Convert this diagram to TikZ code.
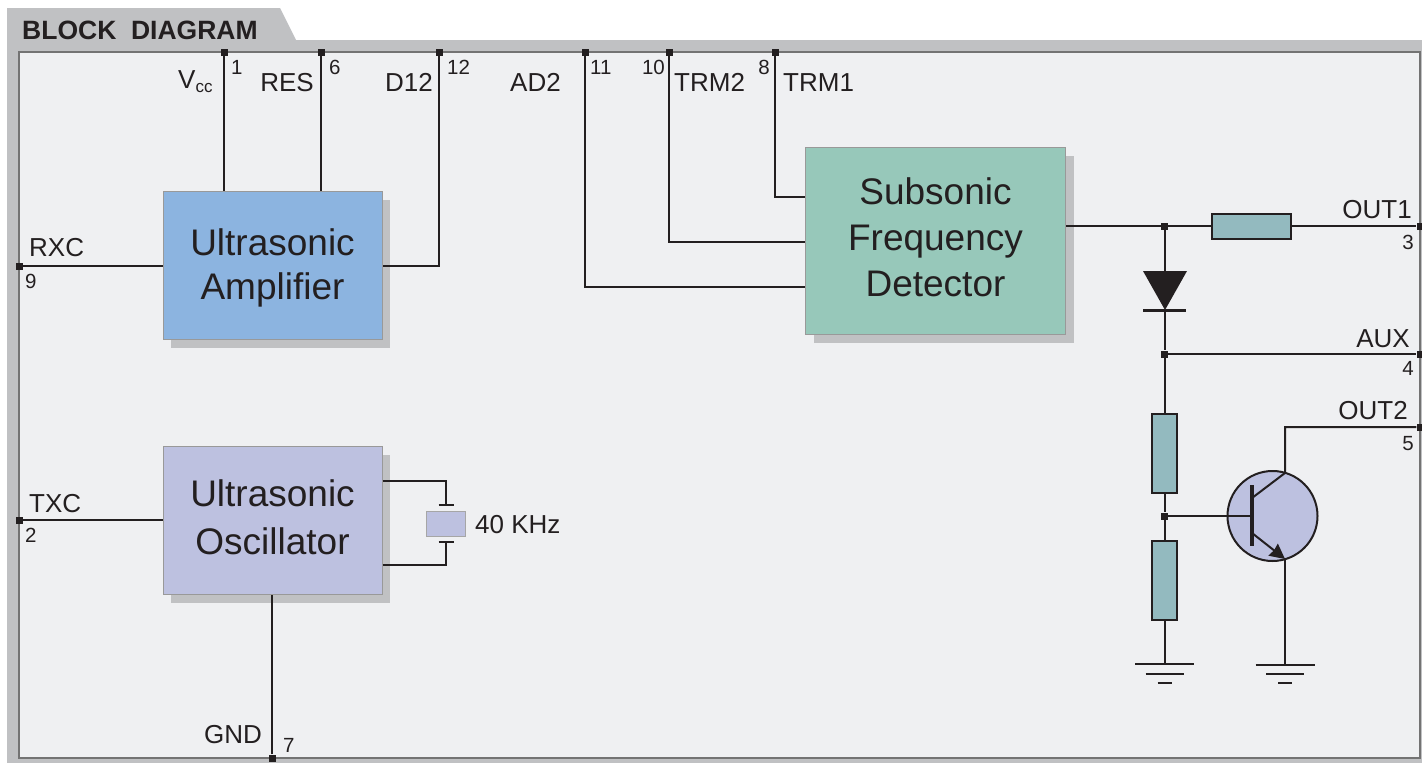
\documentclass[tikz,border=0pt]{standalone}
\usepackage{fontspec}
\setmainfont{Liberation Sans}
\usepackage[dvipsnames,svgnames,x11names]{xcolor}
\usepackage{tikz}
\usetikzlibrary{arrows.meta,positioning,shadows}
\definecolor{panelgray}{HTML}{C0C1C3}
\definecolor{innerbg}{HTML}{EFF0F2}
\definecolor{ink}{HTML}{231F20}
\definecolor{ampblue}{HTML}{8CB4E0}
\definecolor{oscblue}{HTML}{BDC1E0}
\definecolor{detgreen}{HTML}{97C8BA}
\definecolor{resgreen}{HTML}{93BABF}
\newcommand{\blocklines}[2]{\raisebox{#1}[\height][\depth]{\begin{tabular}{@{}c@{}}#2\end{tabular}}}
\tikzset{
  blockbox/.style={rectangle,draw=black!40,line width=1pt,text=ink,font=\fontsize{37}{44}\selectfont,drop shadow={shadow xshift=8pt,shadow yshift=-8pt,fill=panelgray,opacity=1}},
  resbox/.style={rectangle,fill=resgreen,draw=ink,line width=2pt,inner sep=0pt},
  wire/.style={draw=ink,line width=2pt},
  pinpad/.style={rectangle,fill=ink,inner sep=0pt,minimum size=7pt},
  siglabel/.style={text=ink,font=\fontsize{26}{26}\selectfont,inner sep=0pt},
  pinlabel/.style={text=ink,font=\fontsize{20.5}{20.5}\selectfont,inner sep=0pt},
}
\begin{document}
\begin{tikzpicture}[x=1pt,y=-1pt,>=Stealth]
\useasboundingbox (0,0) rectangle (1422,763);
% panel
\fill[panelgray] (7,8) -- (280,8) -- (296,40) -- (1422,40) -- (1422,763) -- (7,763) -- cycle;
\draw[fill=innerbg,draw=black!55,line width=1.2pt] (19,52) rectangle (1420,758);
\node[text=ink,font=\fontsize{26.5}{26.5}\selectfont\bfseries,inner sep=0pt,anchor=base west] (title) at (22,39) {BLOCK\ \ DIAGRAM};
% blocks
\node[blockbox,fill=ampblue,minimum width=219pt,minimum height=148pt] (amp) at (272.5,265.5) {\blocklines{-3.5pt}{Ultrasonic\\Amplifier}};
\node[blockbox,fill=oscblue,minimum width=219pt,minimum height=148pt,font=\fontsize{37}{48}\selectfont] (osc) at (272.5,520.5) {\blocklines{-0.5pt}{Ultrasonic\\Oscillator}};
\node[blockbox,fill=detgreen,minimum width=260pt,minimum height=187pt,font=\fontsize{37}{46}\selectfont] (det) at (935.5,241) {\blocklines{-0.5pt}{Subsonic\\Frequency\\Detector}};
% pins
\node[pinpad] (p1) at (224,52) {};
\node[pinpad] (p6) at (321,52) {};
\node[pinpad] (p12) at (439,52) {};
\node[pinpad] (p11) at (585,52) {};
\node[pinpad] (p10) at (669,52) {};
\node[pinpad] (p8) at (775,52) {};
\node[pinpad] (p9) at (19,266) {};
\node[pinpad] (p2) at (19,520) {};
\node[pinpad] (p7) at (272,758) {};
\node[pinpad] (p3) at (1420,226) {};
\node[pinpad] (p4) at (1420,354) {};
\node[pinpad] (p5) at (1420,427) {};
% junctions
\node[pinpad] (j1) at (1164.5,226) {};
\node[pinpad] (j2) at (1164.5,354) {};
\node[pinpad] (j3) at (1164.5,516) {};
% parts on the right
\node[resbox,minimum width=79pt,minimum height=25pt] (r1) at (1251.5,226) {};
\node[resbox,minimum width=25pt,minimum height=79pt] (r2) at (1164.5,453.5) {};
\node[resbox,minimum width=25pt,minimum height=79pt] (r3) at (1164.5,580.5) {};
\node[circle,fill=oscblue,draw=ink,line width=2pt,minimum size=90pt,inner sep=0pt] (tr) at (1272.5,516) {};
\coordinate (dtop) at (1164.5,271);
\coordinate (dbar) at (1164.5,310);
\coordinate (bb) at (1252,516);
\coordinate (cc) at (1285,473);
\coordinate (ee) at (1285,559);
\coordinate (g1) at (1164.5,664);
\coordinate (g2) at (1285,665);
% crystal
\node[rectangle,fill=oscblue,draw=black!35,line width=1pt,minimum width=39pt,minimum height=25pt,inner sep=0pt] (xtal) at (445.5,523.5) {};
\coordinate (pltop) at (446,505);
\coordinate (plbot) at (446,542);
% wires
\draw[wire] (p1) -- (p1 |- amp.north);
\draw[wire] (p6) -- (p6 |- amp.north);
\draw[wire] (p12) -- (p12 |- p9) -- (p9 -| amp.east);
\draw[wire] (p9) -- (p9 -| amp.west);
\draw[wire] (p2) -- (p2 -| osc.west);
\draw[wire] (p7) -- (p7 |- osc.south);
\draw[wire] (p8) |- (det.west |- 0,197);
\draw[wire] (p10) |- (det.west |- 0,242);
\draw[wire] (p11) |- (det.west |- 0,287);
\draw[wire] (det.east |- j1) -- (j1) -- (r1);
\draw[wire] (r1) -- (p3);
\draw[wire] (j1) -- (dtop);
\draw[wire] (dbar) -- (j2);
\draw[wire] (j2) -- (p4);
\draw[wire] (j2) -- (r2);
\draw[wire] (r2) -- (j3);
\draw[wire] (j3) -- (r3);
\draw[wire] (r3) -- (g1);
\draw[wire] (j3) -- (bb);
\draw[wire] (p5) -- (p5 -| cc) -- (cc) -- (1252,498);
\draw[wire,-{Stealth[length=15pt,width=15pt,inset=1pt]}] (1252,533) -- (ee);
\draw[wire] (ee) -- (g2);
\draw[draw=ink,line width=4pt] (1252,485) -- (1252,546);
% diode
\fill[ink] (1143,271) -- (1187,271) -- (1165,310) -- cycle;
\draw[draw=ink,line width=3pt] (1143,310) -- (1186,310);
% ground symbols
\draw[wire] (g1) ++(-29.5,0) -- ++(59,0);
\draw[wire] (g1) ++(-19,9.5) -- ++(38,0);
\draw[wire] (g1) ++(-7,19) -- ++(14,0);
\draw[wire] (g2) ++(-29.5,0) -- ++(59,0);
\draw[wire] (g2) ++(-19,9) -- ++(38,0);
\draw[wire] (g2) ++(-7,18) -- ++(14,0);
% crystal wires
\draw[wire] (osc.east |- 0,481) -| (pltop);
\draw[wire] (osc.east |- 0,565) -| (plbot);
\draw[wire] (pltop) ++(-7.5,0) -- ++(15,0);
\draw[wire] (plbot) ++(-7.5,0) -- ++(15,0);
% signal names
\node[siglabel,anchor=base west] (lvcc) at (178,88) {V{\raisebox{-4pt}{\fontsize{17}{17}\selectfont cc}}};
\node[siglabel,anchor=base east] (lres) at (314,91) {RES};
\node[siglabel,anchor=base east] (ld12) at (433,91) {D12};
\node[siglabel,anchor=base east] (lad2) at (561,91) {AD2};
\node[siglabel,anchor=base west] (ltrm2) at (674,91) {TRM2};
\node[siglabel,anchor=base west] (ltrm1) at (783,91) {TRM1};
\node[siglabel,anchor=base west] (lrxc) at (29,256) {RXC};
\node[siglabel,anchor=base west] (ltxc) at (29,512) {TXC};
\node[siglabel,anchor=base east] (lgnd) at (262,743) {GND};
\node[siglabel,anchor=base east] (lout1) at (1412,218) {OUT1};
\node[siglabel,anchor=base east] (laux) at (1410,347) {AUX};
\node[siglabel,anchor=base east] (lout2) at (1408,419) {OUT2};
\node[siglabel,anchor=base west] (lxtal) at (475,533) {40 KHz};
% pin numbers
\node[pinlabel,anchor=base west] (n1) at (231,74) {1};
\node[pinlabel,anchor=base west] (n6) at (329,74) {6};
\node[pinlabel,anchor=base west] (n12) at (447,74) {12};
\node[pinlabel,anchor=base west] (n11) at (590,74) {11};
\node[pinlabel,anchor=base east] (n10) at (665,74) {10};
\node[pinlabel,anchor=base east] (n8) at (770,74) {8};
\node[pinlabel,anchor=base west] (n9) at (25,288) {9};
\node[pinlabel,anchor=base west] (n2) at (25,542) {2};
\node[pinlabel,anchor=base west] (n7) at (283,752) {7};
\node[pinlabel,anchor=base east] (n3) at (1414,249) {3};
\node[pinlabel,anchor=base east] (n4) at (1414,375) {4};
\node[pinlabel,anchor=base east] (n5) at (1414,450) {5};
\end{tikzpicture}
\end{document}
